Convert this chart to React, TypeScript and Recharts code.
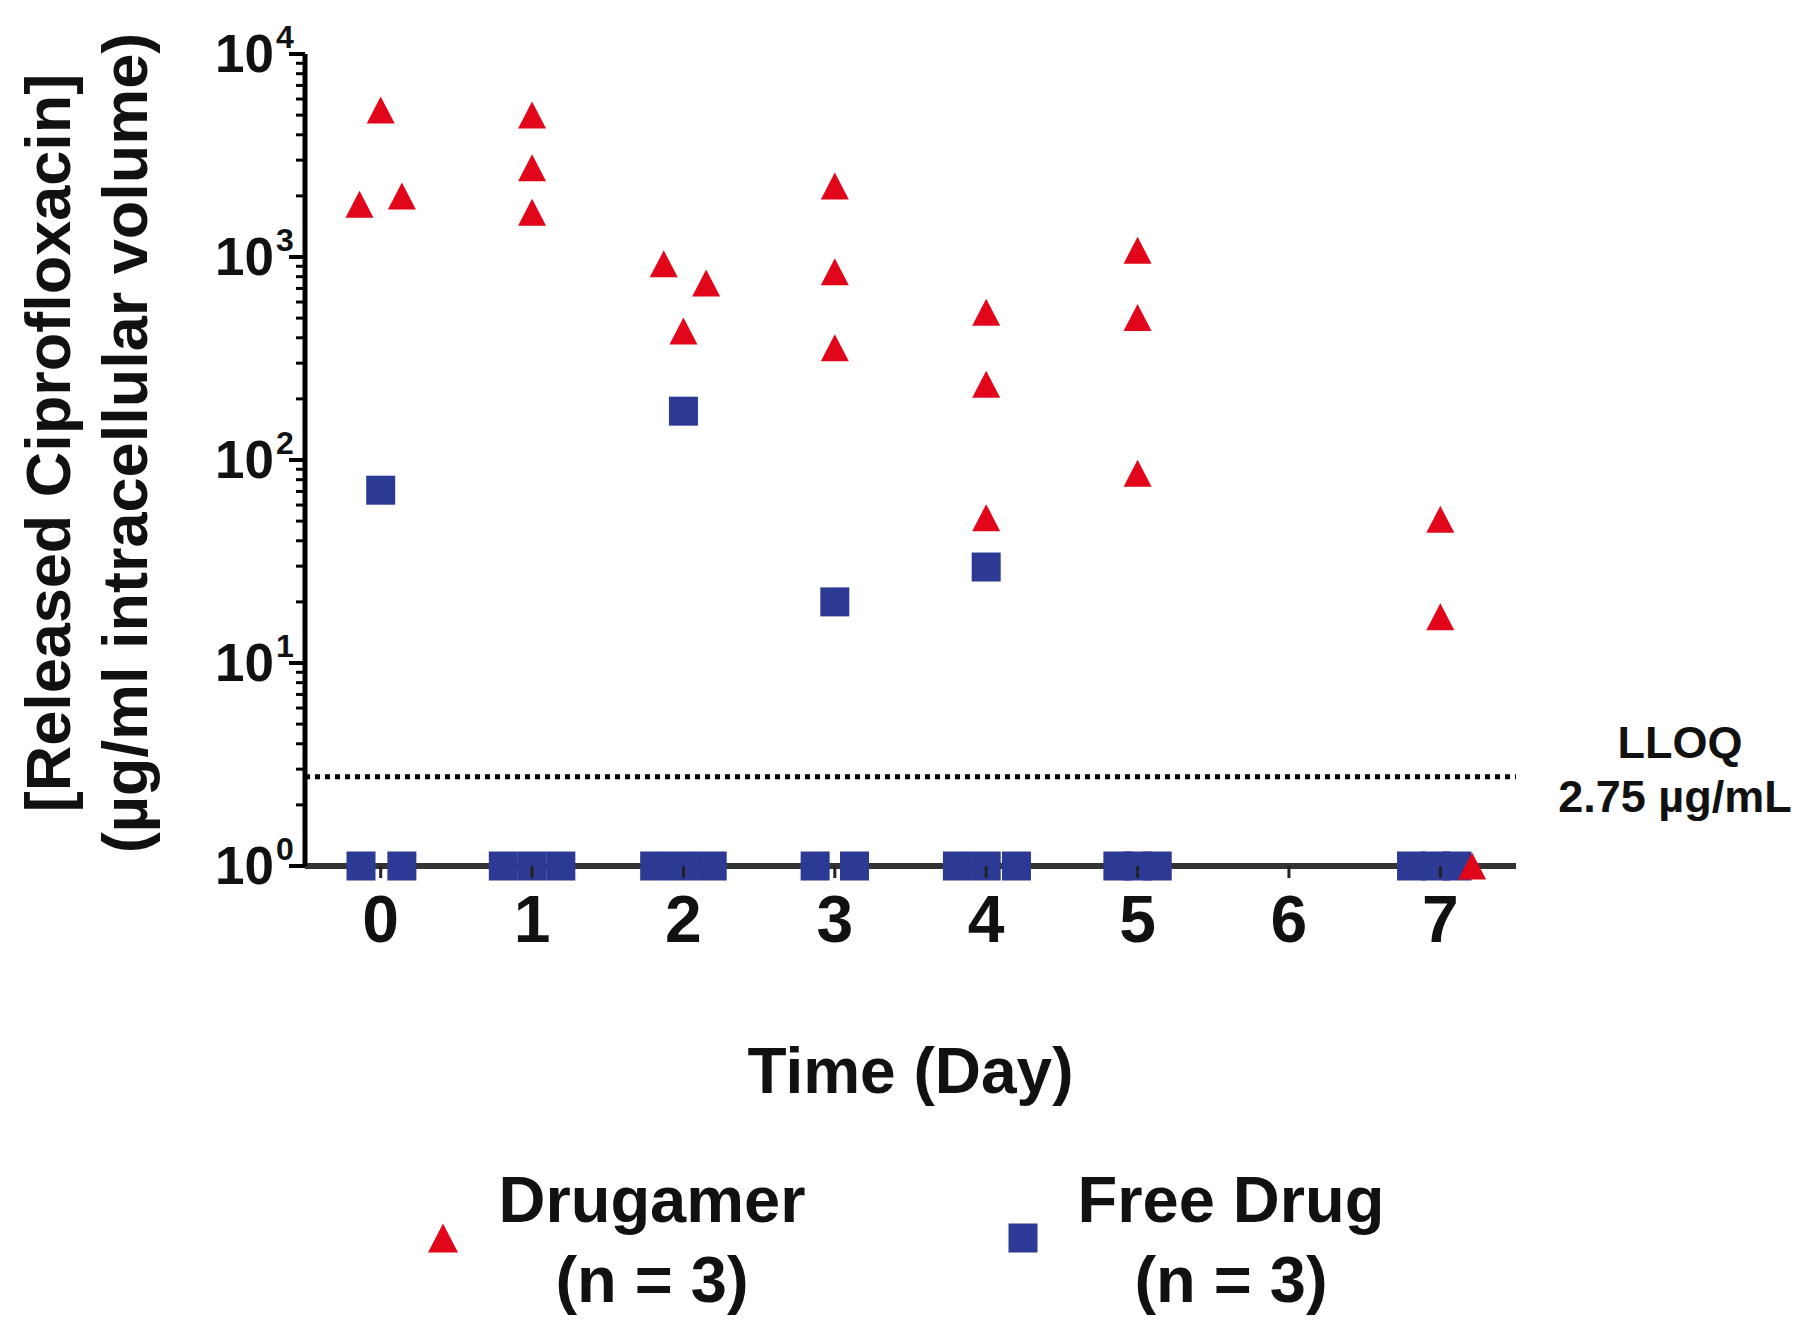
import React from 'react';
import { Legend, ReferenceLine, Scatter, ScatterChart, XAxis, YAxis } from 'recharts';

// ---- data ----
const DAYS = [0, 1, 2, 3, 4, 5, 6, 7];
const Y_MAJOR = [1, 10, 100, 1000, 10000];
const Y_EXPONENTS = ['0', '1', '2', '3', '4'];
const Y_MINOR_STEPS = [2, 3, 4, 5, 6, 7, 8, 9];
const LLOQ = 2.75;

// x = day (+ the small horizontal spread the original plot uses for replicates)
const drugamerX = [-0.14, 0, 0.14, 1, 1, 1, 1.87, 2.15, 2, 3, 3, 3, 4, 4, 4, 5, 5, 5, 7, 7, 7.21];
const drugamerY = [1820, 5300, 2000, 5000, 2750, 1660, 925, 745, 432, 2235, 846, 357, 535, 236, 52, 1080, 503, 86, 51, 16.9, 1];

const freeDrugX = [0, -0.13, 0.14, 0.81, 1, 1.19, 2, 1.81, 2, 2.19, 3, 2.87, 3.13, 4, 3.81, 4, 4.2, 4.87, 5, 5.13, 6.81, 6.97, 7.11];
const freeDrugY = [71, 1, 1, 1, 1, 1, 174, 1, 1, 1, 20, 1, 1, 29.7, 1, 1, 1, 1, 1, 1, 1, 1, 1];

const SERIES_NAMES = ['Drugamer', 'Free Drug'];
const SERIES_N = [3, 3];

const drugamerData = drugamerX.map((x, i) => ({ x, y: drugamerY[i] }));
const freeDrugData = freeDrugX.map((x, i) => ({ x, y: freeDrugY[i] }));
const yTicks = Y_MAJOR.flatMap((m, i) =>
  i < Y_MAJOR.length - 1 ? [m, ...Y_MINOR_STEPS.map((s) => s * m)] : [m]
);

// ---- look ----
const FONT = "'Liberation Sans', Arial, Helvetica, sans-serif";
const RED = '#E1061A';
const BLUE = '#2D3A95';
const W = 1800;
const H = 1324;
const PLOT_LEFT = 305;
const PLOT_RIGHT = 1516;
const PLOT_TOP = 54;
const PLOT_BOTTOM = 866;
const Y_AXIS_W = 100;
const X_AXIS_H = 100;

const Triangle = (props: any) => {
  const { cx, cy } = props;
  return (
    <polygon
      points={`${cx},${cy - 13.5} ${cx - 14},${cy + 13.5} ${cx + 14},${cy + 13.5}`}
      fill={RED}
    />
  );
};

const Square = (props: any) => {
  const { cx, cy } = props;
  return <rect x={cx - 14.5} y={cy - 14.5} width={29} height={29} fill={BLUE} />;
};

function YTick({ x, y, payload }: any) {
  const idx = Y_MAJOR.indexOf(payload.value);
  if (idx < 0) {
    return <line x1={x - 9} x2={x} y1={y} y2={y} stroke="#000" strokeWidth={3} />;
  }
  return (
    <g>
      <line x1={x - 16} x2={x} y1={y} y2={y} stroke="#000" strokeWidth={4} />
      <text x={x - 31} y={y + 18} textAnchor="end" fontSize={53} fontWeight={700} fontFamily={FONT} fill="#111">
        10
      </text>
      <text x={x - 29} y={y - 6} textAnchor="start" fontSize={32} fontWeight={700} fontFamily={FONT} fill="#111">
        {Y_EXPONENTS[idx]}
      </text>
    </g>
  );
}

function XTick({ x, y, payload }: any) {
  return (
    <g>
      <line x1={x} x2={x} y1={y} y2={y + 12} stroke="#222" strokeWidth={3} />
      <text x={x} y={y + 76} textAnchor="middle" fontSize={66} fontWeight={700} fontFamily={FONT} fill="#111">
        {payload.value}
      </text>
    </g>
  );
}

function XTitle({ viewBox }: any) {
  return (
    <text
      x={viewBox.x + viewBox.width / 2}
      y={viewBox.y + 227}
      textAnchor="middle"
      fontSize={64}
      fontWeight={700}
      fontFamily={FONT}
      fill="#111"
    >
      Time (Day)
    </text>
  );
}

function YTitle() {
  const cy = 443;
  const lines = [
    { x: 70, text: '[Released Ciprofloxacin]' },
    { x: 147, text: '(µg/ml intracellular volume)' },
  ];
  return (
    <g>
      {lines.map((l) => (
        <text
          key={l.text}
          x={l.x}
          y={cy}
          transform={`rotate(-90, ${l.x}, ${cy})`}
          textAnchor="middle"
          fontSize={63}
          fontWeight={700}
          fontFamily={FONT}
          fill="#111"
        >
          {l.text}
        </text>
      ))}
    </g>
  );
}

function LloqLabel({ viewBox }: any) {
  const y = viewBox.y;
  return (
    <g fontFamily={FONT} fontWeight={700} fontSize={45} fill="#111">
      <text x={1680} y={y - 19} textAnchor="middle">LLOQ</text>
      <text x={1675} y={y + 35} textAnchor="middle">{`${LLOQ} µg/mL`}</text>
    </g>
  );
}

// legend entries: icon centre and text centre
const LEGEND_POS = [
  { icon: 443, text: 652 },
  { icon: 1023, text: 1231 },
];

function LegendBlock(props: any) {
  const payload: any[] = props.payload ?? [];
  const ordered = SERIES_NAMES.map((n) => payload.find((p) => p.value === n)).filter(Boolean);
  return (
    <svg width={W} height={174} style={{ display: 'block' }}>
      {ordered.map((p: any, i: number) => {
        const pos = LEGEND_POS[i];
        const isTri = p.value === 'Drugamer';
        return (
          <g key={p.value}>
            {isTri ? (
              <polygon
                points={`${pos.icon},${88 - 14.5} ${pos.icon - 15},${88 + 14.5} ${pos.icon + 15},${88 + 14.5}`}
                fill={RED}
              />
            ) : (
              <rect x={pos.icon - 14.5} y={88 - 14.5} width={29} height={29} fill={BLUE} />
            )}
            <text x={pos.text} y={72} textAnchor="middle" fontSize={65} fontWeight={700} fontFamily={FONT} fill="#111">
              {p.value}
            </text>
            <text x={pos.text} y={152} textAnchor="middle" fontSize={65} fontWeight={700} fontFamily={FONT} fill="#111">
              {`(n = ${SERIES_N[SERIES_NAMES.indexOf(p.value)]})`}
            </text>
          </g>
        );
      })}
    </svg>
  );
}

export default function App() {
  return (
    <div style={{ position: 'absolute', left: 0, top: 0, width: W, height: H, background: '#fff' }}>
      <ScatterChart
        width={W}
        height={H}
        margin={{
          top: PLOT_TOP,
          right: W - PLOT_RIGHT,
          bottom: H - PLOT_BOTTOM - X_AXIS_H,
          left: PLOT_LEFT - Y_AXIS_W,
        }}
      >
        <XAxis
          type="number"
          dataKey="x"
          domain={[-0.5, 7.5]}
          ticks={DAYS}
          interval={0}
          height={X_AXIS_H}
          tickSize={0}
          tickMargin={0}
          tickLine={false}
          tick={<XTick />}
          axisLine={{ stroke: '#333', strokeWidth: 6 }}
          label={{ content: XTitle }}
        />
        <YAxis
          type="number"
          dataKey="y"
          scale="log"
          domain={[1, 10000]}
          ticks={yTicks}
          interval={0}
          width={Y_AXIS_W}
          tickSize={0}
          tickMargin={0}
          tickLine={false}
          tick={<YTick />}
          axisLine={{ stroke: '#000', strokeWidth: 5 }}
          label={{ content: YTitle }}
        />
        <ReferenceLine
          y={LLOQ}
          stroke="#000"
          strokeWidth={5}
          strokeDasharray="5 5"
          label={{ content: LloqLabel }}
        />
        <Legend
          verticalAlign="middle"
          layout="horizontal"
          wrapperStyle={{ left: 0, top: 1150, width: W, height: 174 }}
          content={LegendBlock}
        />
        <Scatter name="Free Drug" data={freeDrugData} fill={BLUE} shape={Square} isAnimationActive={false} />
        <Scatter name="Drugamer" data={drugamerData} fill={RED} shape={Triangle} isAnimationActive={false} />
      </ScatterChart>
    </div>
  );
}
